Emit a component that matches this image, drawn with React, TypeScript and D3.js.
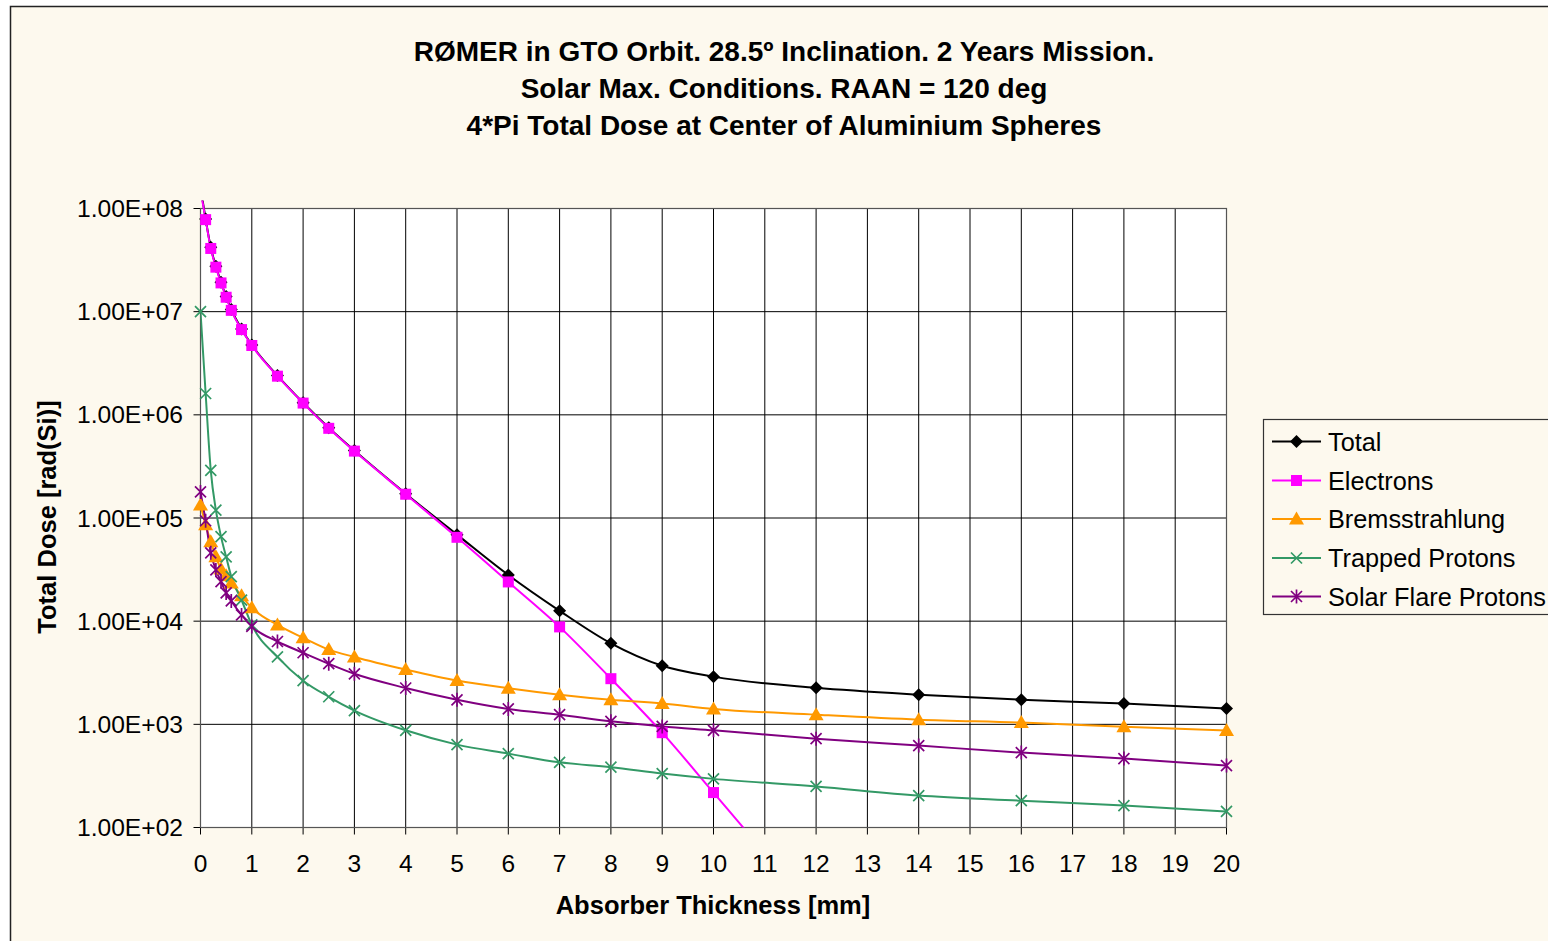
import React from "react";
import * as d3 from "d3";

const thickness = [0, 0.1, 0.2, 0.3, 0.4, 0.5, 0.6, 0.8, 1, 1.5, 2, 2.5, 3, 4, 5, 6, 7, 8, 9, 10, 12, 14, 16, 18, 20];

const total = [1.6e8, 7.9e7, 4.2e7, 2.75e7, 1.93e7, 1.4e7, 1.05e7, 6.8e6, 4.75e6, 2.4e6, 1.31e6, 7.5e5, 4.5e5, 1.72e5, 6.9e4, 2.8e4, 1.26e4, 6.1e3, 3.7e3, 2.9e3, 2.26e3, 1.94e3, 1.73e3, 1.59e3, 1.42e3];
const electrons = [1.5e8, 7.8e7, 4.1e7, 2.7e7, 1.9e7, 1.38e7, 1.03e7, 6.7e6, 4.7e6, 2.37e6, 1.3e6, 7.4e5, 4.45e5, 1.7e5, 6.5e4, 2.4e4, 8.8e3, 2.77e3, 830, 218, 15, 1.2, 0.1, 0.01, 0.001];
const bremsstrahlung = [1.34e5, 8.6e4, 5.9e4, 4.2e4, 3.2e4, 2.75e4, 2.35e4, 1.76e4, 1.35e4, 9.2e3, 6.9e3, 5.3e3, 4.5e3, 3.4e3, 2.66e3, 2.24e3, 1.94e3, 1.73e3, 1.59e3, 1.41e3, 1.24e3, 1.11e3, 1.04e3, 950, 870];
const trappedProtons = [1.0e7, 1.61e6, 2.9e5, 1.19e5, 6.6e4, 4.2e4, 2.7e4, 1.6e4, 9.2e3, 4.5e3, 2.65e3, 1.85e3, 1.36e3, 875, 636, 520, 428, 384, 333, 296, 250, 204, 182, 163, 143];
const solarFlareProtons = [1.79e5, 9.4e4, 4.6e4, 3.14e4, 2.42e4, 1.88e4, 1.57e4, 1.15e4, 8.9e3, 6.35e3, 4.94e3, 3.87e3, 3.09e3, 2.25e3, 1.73e3, 1.41e3, 1.24e3, 1.07e3, 955, 875, 726, 622, 532, 466, 398];

const seriesNames = ["Total", "Electrons", "Bremsstrahlung", "Trapped Protons", "Solar Flare Protons"];
const seriesValues = [total, electrons, bremsstrahlung, trappedProtons, solarFlareProtons];
const seriesColors = ["#000000", "#FF00FF", "#FF9900", "#339966", "#800080"];
const seriesMarkers = ["diamond", "square", "triangle", "x", "star"];

const xTicks = d3.range(0, 21, 1);
const yTicks = [1e2, 1e3, 1e4, 1e5, 1e6, 1e7, 1e8];
const yTickLabels = ["1.00E+02", "1.00E+03", "1.00E+04", "1.00E+05", "1.00E+06", "1.00E+07", "1.00E+08"];

const titleLines = [
  "RØMER in GTO Orbit. 28.5º Inclination. 2 Years Mission.",
  "Solar Max. Conditions. RAAN = 120 deg",
  "4*Pi Total Dose at Center of Aluminium Spheres",
];

const FONT = "'Liberation Sans', Arial, Helvetica, sans-serif";

function Marker({ kind, color, x, y }: { kind: string; color: string; x: number; y: number }) {
  const t = `translate(${x},${y})`;
  if (kind === "diamond") return <path transform={t} d="M0,-6.5L6.5,0L0,6.5L-6.5,0Z" fill={color} />;
  if (kind === "square") return <rect transform={t} x={-5.5} y={-5.5} width={11} height={11} fill={color} />;
  if (kind === "triangle") return <path transform={t} d="M0,-7.5L7.5,5.5L-7.5,5.5Z" fill={color} />;
  if (kind === "x")
    return <path transform={t} d="M-5.5,-5.5L5.5,5.5M-5.5,5.5L5.5,-5.5" stroke={color} strokeWidth={1.7} fill="none" />;
  return (
    <path transform={t} d="M-5.5,-5.5L5.5,5.5M-5.5,5.5L5.5,-5.5M0,-7L0,7" stroke={color} strokeWidth={1.7} fill="none" />
  );
}

export default function App() {
  const W = 1548, H = 941;
  const left = 200.5, right = 1226.5, top = 208.5, bottom = 827.5;
  const x = d3.scaleLinear().domain([0, 20]).range([left, right]);
  const y = d3.scaleLog().domain([1e2, 1e8]).range([bottom, top]);

  const line = d3
    .line<[number, number]>()
    .x((d) => x(d[0]))
    .y((d) => y(d[1]))
    .curve(d3.curveMonotoneX);

  const legendX = 1263.5, legendY = 419.5;
  const rowY = [441.5, 480.5, 519, 558, 596.5];

  return (
    <svg width={W} height={H} style={{ position: "absolute", left: 0, top: 0, display: "block" }} fontFamily={FONT}>
      <rect x={0} y={0} width={W} height={H} fill="#ffffff" />
      <rect x={10.5} y={6.5} width={1700} height={1000} fill="#FDF9EE" stroke="#222" strokeWidth={1.5} />
      <defs>
        <clipPath id="plotclip">
          <rect x={left} y={top - 8} width={right - left + 10} height={bottom - top + 8} />
        </clipPath>
      </defs>
      {/* title */}
      {titleLines.map((t, i) => (
        <text key={i} x={784} y={61 + i * 36.8} textAnchor="middle" fontSize={28} fontWeight="bold" fill="#000">
          {t}
        </text>
      ))}
      {/* plot area */}
      <rect x={left} y={top} width={right - left} height={bottom - top} fill="#ffffff" />
      {/* gridlines */}
      {xTicks.map((t) => (
        <line key={"gx" + t} x1={x(t)} x2={x(t)} y1={top} y2={bottom + 7} stroke="#000" strokeWidth={1} />
      ))}
      {yTicks.map((t) => (
        <line key={"gy" + t} x1={left - 7} x2={right} y1={y(t)} y2={y(t)} stroke="#000" strokeWidth={1} />
      ))}
      <rect x={left} y={top} width={right - left} height={bottom - top} fill="none" stroke="#555" strokeWidth={1.2} />
      {/* y tick labels */}
      {yTicks.map((t, i) => (
        <text key={"yl" + t} x={183} y={y(t) + 8.5} textAnchor="end" fontSize={24.6} fill="#000">
          {yTickLabels[i]}
        </text>
      ))}
      {/* x tick labels */}
      {xTicks.map((t) => (
        <text key={"xl" + t} x={x(t)} y={872} textAnchor="middle" fontSize={24.5} fill="#000">
          {String(t)}
        </text>
      ))}
      {/* axis titles */}
      <text x={713} y={914} textAnchor="middle" fontSize={25.5} fontWeight="bold" fill="#000">
        Absorber Thickness [mm]
      </text>
      <text
        transform={`translate(56,517) rotate(-90)`}
        textAnchor="middle"
        fontSize={25.5}
        fontWeight="bold"
        fill="#000"
      >
        Total Dose [rad(Si)]
      </text>
      {/* series */}
      <g clipPath="url(#plotclip)">
        {seriesValues.map((vals, si) => {
          const pts = thickness.map((t, i) => [t, vals[i]] as [number, number]);
          return (
            <path key={"s" + si} d={line(pts) || ""} fill="none" stroke={seriesColors[si]} strokeWidth={2} />
          );
        })}
      </g>
      {seriesValues.map((vals, si) => (
        <g key={"m" + si}>
          {thickness.map((t, i) =>
            vals[i] >= 1e2 && vals[i] <= 1e8 ? (
              <Marker key={i} kind={seriesMarkers[si]} color={seriesColors[si]} x={x(t)} y={y(vals[i])} />
            ) : null
          )}
        </g>
      ))}
      {/* legend */}
      <rect x={legendX} y={legendY} width={320} height={195} fill="#FDF9EE" stroke="#333" strokeWidth={1.2} />
      {seriesNames.map((n, i) => (
        <g key={"lg" + i}>
          <line x1={1272} x2={1321} y1={rowY[i]} y2={rowY[i]} stroke={seriesColors[i]} strokeWidth={2} />
          <Marker kind={seriesMarkers[i]} color={seriesColors[i]} x={1296.5} y={rowY[i]} />
          <text x={1328} y={rowY[i] + 9} fontSize={25.3} fill="#000">
            {n}
          </text>
        </g>
      ))}
    </svg>
  );
}
